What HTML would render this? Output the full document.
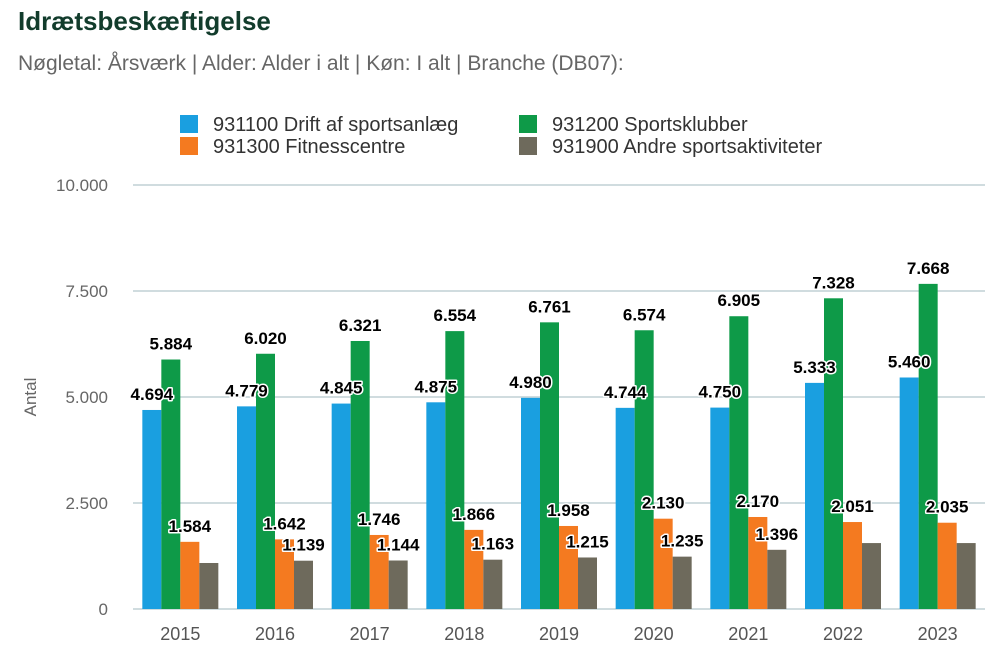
<!DOCTYPE html>
<html><head><meta charset="utf-8"><style>
body{margin:0;background:#fff;font-family:"Liberation Sans",sans-serif;}
#wrap{position:relative;width:1000px;height:667px;overflow:hidden}
.title{position:absolute;left:18px;top:6px;font-size:26px;font-weight:bold;color:#123c2c}
.sub{position:absolute;left:18px;top:52px;font-size:21px;color:#666}
svg text{font-family:"Liberation Sans",sans-serif}
.lbl{font-weight:bold;font-size:17px;fill:#000;stroke:#fff;stroke-width:3px;paint-order:stroke;stroke-linejoin:round}
</style></head><body><div id="wrap">
<div class="title">Idrætsbeskæftigelse</div>
<div class="sub">Nøgletal: Årsværk | Alder: Alder i alt | Køn: I alt | Branche (DB07):</div>
<svg id="chart" width="1000" height="667" style="position:absolute;left:0;top:0"></svg>
</div>
<script>
const categories=["2015","2016","2017","2018","2019","2020","2021","2022","2023"];
const seriesNames=["931100 Drift af sportsanlæg","931200 Sportsklubber","931300 Fitnesscentre","931900 Andre sportsaktiviteter"];
const colors=["#1a9fe0","#0e9a48","#f47a20","#6e6a5c"];
const drift=[4694,4779,4845,4875,4980,4744,4750,5333,5460];
const klubber=[5884,6020,6321,6554,6761,6574,6905,7328,7668];
const fitness=[1584,1642,1746,1866,1958,2130,2170,2051,2035];
const andre=[1085,1139,1144,1163,1215,1235,1396,1555,1555];
const showAndreLabel=[false,true,true,true,true,true,true,false,false];
const yTicks=[0,2500,5000,7500,10000];
const yTickLabels=["0","2.500","5.000","7.500","10.000"];
const series=[drift,klubber,fitness,andre];
const NS="http://www.w3.org/2000/svg";
const svg=document.getElementById('chart');
const x0=133,x1=985,yTop=185,yBot=609,yMax=10000;
const y=v=>yBot-(v/yMax)*(yBot-yTop);
const bandW=(x1-x0)/categories.length;
const barW=19,groupOff=(bandW-4*barW)/2;
const xb=(i,s)=>x0+i*bandW+groupOff+s*barW;
function mk(tag,attrs){const e=document.createElementNS(NS,tag);for(const k in attrs)e.setAttribute(k,attrs[k]);svg.appendChild(e);return e;}
const fmt=v=>{const s=String(v);return s.length>3?s.slice(0,-3)+"."+s.slice(-3):s;};
yTicks.forEach((t,i)=>{
 const l=mk('line',{x1:x0,x2:x1,y1:y(t),y2:y(t),stroke:'#b4c6cc','stroke-width':1.2});
 
 
 const tx=mk('text',{x:108,y:y(t)+6,'text-anchor':'end','font-size':17,fill:'#666'});
 tx.textContent=yTickLabels[i];
 
 
});
const yt=mk('text',{x:0,y:0,'font-size':17,fill:'#666','text-anchor':'middle',transform:'translate(36,397) rotate(-90)'});
yt.textContent="Antal";


categories.forEach((c,i)=>{
 const t=mk('text',{x:x0+i*bandW+bandW/2,y:640,'text-anchor':'middle','font-size':18,fill:'#555'});
 t.textContent=c;
 
 
 series.forEach((s,si)=>{
  const r=mk('rect',{x:xb(i,si),y:y(s[i]),width:barW,height:yBot-y(s[i]),fill:colors[si]});
  
  
 });
});
categories.forEach((c,i)=>{
 series.forEach((s,si)=>{
  if(si==3&&!showAndreLabel[i])return;
  const t=mk('text',{x:xb(i,si)+barW/2,y:y(s[i])-10,'text-anchor':'middle',class:'lbl'});
  t.textContent=fmt(s[i]);
  
  
 });
});
const legPos=[[180,124],[519,124],[180,146],[519,146]];
seriesNames.forEach((n,i)=>{
 const [lx,ly]=legPos[i];
 const r=mk('rect',{x:lx,y:ly-9,width:18,height:18,fill:colors[i]});
 
 
 const t=mk('text',{x:lx+33,y:ly+7,'font-size':20,fill:'#333'});
 t.textContent=n;
 
 
});
</script></body></html>
